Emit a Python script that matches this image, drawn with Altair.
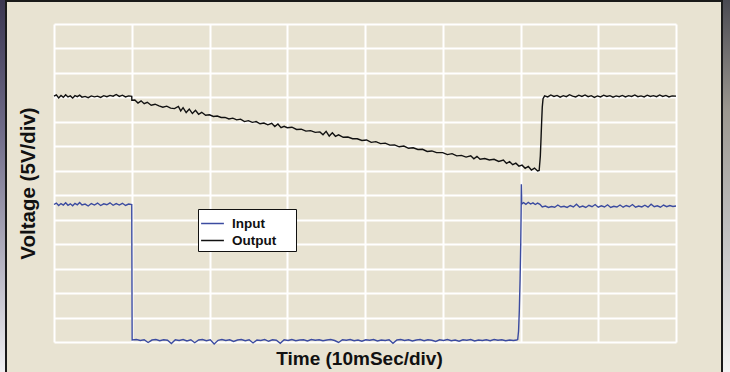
import altair as alt
import pandas as pd

# Output trace (black): time in divisions, voltage in divisions from bottom grid line
out_t = [0.00, 0.03, 0.06, 0.09, 0.12, 0.15, 0.18, 0.21, 0.24, 0.27, 0.30, 0.33, 0.36, 0.40, 0.44, 0.48,
         0.52, 0.56, 0.60, 0.64, 0.68, 0.72, 0.76, 0.80, 0.84, 0.88, 0.92, 0.96, 1.00, 1.001,
         1.04, 1.08, 1.12, 1.16, 1.20, 1.25, 1.30, 1.35, 1.40, 1.45, 1.50, 1.55, 1.60, 1.63, 1.66, 1.70,
         1.74, 1.78, 1.82, 1.86, 1.90, 1.95, 2.00, 2.05, 2.10, 2.15, 2.20, 2.25, 2.30, 2.35, 2.40, 2.45,
         2.50, 2.55, 2.60, 2.65, 2.70, 2.75, 2.80, 2.84, 2.88, 2.92, 2.96, 3.00, 3.06, 3.12, 3.18, 3.24,
         3.30, 3.36, 3.42, 3.46, 3.50, 3.54, 3.58, 3.62, 3.66, 3.72, 3.78, 3.84, 3.90, 3.96, 4.02, 4.08,
         4.14, 4.20, 4.26, 4.32, 4.38, 4.44, 4.50, 4.56, 4.62, 4.68, 4.74, 4.80, 4.86, 4.92, 5.00, 5.06,
         5.12, 5.18, 5.24, 5.30, 5.36, 5.40, 5.44, 5.48, 5.54, 5.60, 5.66, 5.72, 5.78, 5.82, 5.86, 5.90,
         5.94, 5.98, 6.02, 6.06, 6.10, 6.14, 6.18, 6.22, 6.24,
         6.255, 6.265, 6.272, 6.28, 6.29, 6.31,
         6.35, 6.39, 6.43, 6.47, 6.51, 6.55, 6.59, 6.63, 6.67, 6.71, 6.75, 6.79, 6.83, 6.87, 6.91, 6.95,
         6.99, 7.03, 7.07, 7.11, 7.15, 7.19, 7.23, 7.27, 7.31, 7.35, 7.39, 7.43, 7.47, 7.51, 7.55, 7.59,
         7.63, 7.67, 7.71, 7.75, 7.79, 7.83, 7.87, 7.91, 7.95, 8.00]
out_v = [10.05, 10.10, 9.98, 10.08, 10.00, 10.11, 10.02, 10.06, 9.97, 10.07, 10.03, 10.09, 10.01, 10.04, 9.99, 10.06,
         10.02, 10.05, 10.00, 10.07, 10.03, 10.08, 10.05, 10.12, 10.04, 10.09, 10.02, 10.06, 10.04, 9.88,
         9.89, 9.77, 9.86, 9.74, 9.80, 9.68, 9.72, 9.65, 9.60, 9.64, 9.56, 9.54, 9.63, 9.45, 9.58, 9.38,
         9.52, 9.34, 9.47, 9.31, 9.39, 9.27, 9.29, 9.22, 9.24, 9.18, 9.18, 9.12, 9.15, 9.08, 9.11, 9.01,
         9.05, 8.98, 9.01, 8.92, 8.95, 8.88, 8.94, 8.81, 8.91, 8.76, 8.82, 8.76, 8.78, 8.69, 8.70, 8.62,
         8.64, 8.57, 8.59, 8.47, 8.61, 8.42, 8.55, 8.41, 8.47, 8.37, 8.38, 8.31, 8.31, 8.24, 8.26, 8.16,
         8.19, 8.11, 8.13, 8.05, 8.06, 7.98, 8.01, 7.92, 7.94, 7.87, 7.88, 7.79, 7.81, 7.74, 7.74, 7.66,
         7.70, 7.61, 7.63, 7.56, 7.61, 7.49, 7.59, 7.47, 7.50, 7.44, 7.47, 7.38, 7.44, 7.30, 7.37, 7.25,
         7.31, 7.19, 7.23, 7.10, 7.18, 7.03, 7.11, 6.99, 7.01,
         7.60, 8.40, 9.00, 9.60, 9.95, 10.06,
         10.02, 10.10, 10.04, 10.08, 10.01, 10.07, 10.03, 10.11, 10.05, 10.02, 10.09, 10.04, 10.10, 10.03, 10.07, 10.00,
         10.06, 10.02, 10.09, 10.04, 10.07, 10.01, 10.06, 10.03, 10.08, 10.02, 10.07, 10.04, 10.10, 10.03, 10.06, 10.02,
         10.09, 10.04, 10.07, 10.03, 10.10, 10.04, 10.08, 10.02, 10.06, 10.05]

# Input trace (blue)
in_t = [0.00, 0.03, 0.06, 0.09, 0.12, 0.15, 0.18, 0.21, 0.24, 0.27, 0.30, 0.33, 0.36, 0.40, 0.44, 0.48,
        0.52, 0.56, 0.60, 0.64, 0.68, 0.72, 0.76, 0.80, 0.84, 0.88, 0.92, 0.96, 1.00, 1.005,
        1.06, 1.11, 1.16, 1.21, 1.26, 1.31, 1.36, 1.41, 1.46, 1.51, 1.56, 1.61, 1.66, 1.71, 1.76, 1.81,
        1.86, 1.91, 1.96, 2.01, 2.06, 2.11, 2.16, 2.21, 2.26, 2.31, 2.36, 2.41, 2.46, 2.51, 2.56, 2.61,
        2.66, 2.71, 2.76, 2.81, 2.86, 2.91, 2.96, 3.01, 3.06, 3.11, 3.16, 3.21, 3.26, 3.31, 3.36, 3.41,
        3.46, 3.51, 3.56, 3.61, 3.66, 3.71, 3.76, 3.81, 3.86, 3.91, 3.96, 4.01, 4.06, 4.11, 4.16, 4.21,
        4.26, 4.31, 4.36, 4.41, 4.46, 4.51, 4.56, 4.61, 4.66, 4.71, 4.76, 4.81, 4.86, 4.91, 4.96, 5.01,
        5.06, 5.11, 5.16, 5.21, 5.26, 5.31, 5.36, 5.41, 5.46, 5.51, 5.56, 5.61, 5.66, 5.71, 5.76, 5.81,
        5.86, 5.91, 5.95,
        5.964, 5.975, 5.985, 5.995, 6.003, 6.008, 6.011, 6.016,
        6.04, 6.07, 6.10, 6.13, 6.16, 6.19, 6.22, 6.25, 6.28, 6.32, 6.36, 6.40, 6.44, 6.48, 6.52, 6.56,
        6.60, 6.64, 6.68, 6.72, 6.76, 6.80, 6.84, 6.88, 6.92, 6.96, 7.00, 7.04, 7.08, 7.12, 7.16, 7.20,
        7.24, 7.28, 7.32, 7.36, 7.40, 7.44, 7.48, 7.52, 7.56, 7.60, 7.64, 7.68, 7.72, 7.76, 7.80, 7.84,
        7.88, 7.92, 7.96, 8.00]
in_v = [5.62, 5.68, 5.58, 5.66, 5.60, 5.69, 5.59, 5.65, 5.57, 5.67, 5.61, 5.70, 5.60, 5.64, 5.56, 5.66,
        5.60, 5.68, 5.58, 5.65, 5.61, 5.69, 5.59, 5.66, 5.60, 5.67, 5.58, 5.64, 5.62, 0.08,
        0.10, 0.06, 0.09, -0.02, 0.08, 0.10, 0.05, 0.09, 0.07, -0.06, 0.09, 0.06, 0.10, 0.04, 0.09, -0.03,
        0.08, 0.10, 0.05, 0.09, -0.08, 0.07, 0.10, 0.06, 0.09, 0.02, 0.08, 0.10, 0.05, 0.09, -0.04, 0.08,
        0.06, 0.10, 0.03, 0.09, 0.07, -0.05, 0.09, 0.06, 0.10, 0.05, 0.08, 0.09, 0.04, 0.10, 0.07, 0.09,
        0.05, 0.08, 0.10, 0.06, -0.02, 0.09, 0.07, 0.10, 0.05, 0.08, 0.03, 0.09, 0.07, 0.10, 0.04, 0.08,
        0.06, 0.09, -0.05, 0.08, 0.10, 0.06, 0.09, 0.04, 0.08, 0.10, 0.05, 0.09, 0.07, 0.02, 0.09, 0.06,
        0.10, 0.05, 0.08, 0.03, 0.09, 0.07, 0.10, 0.04, 0.08, 0.06, 0.09, 0.05, 0.10, 0.07, 0.09, 0.05,
        0.08, 0.06, 0.08,
        0.10, 0.45, 1.30, 2.60, 4.00, 5.30, 6.45, 5.64,
        5.70, 5.63, 5.71, 5.64, 5.69, 5.62, 5.68, 5.63, 5.52, 5.56, 5.50, 5.54, 5.51, 5.60, 5.52, 5.55,
        5.50, 5.58, 5.52, 5.63, 5.51, 5.56, 5.50, 5.59, 5.53, 5.62, 5.51, 5.57, 5.52, 5.61, 5.50, 5.55,
        5.52, 5.60, 5.51, 5.58, 5.53, 5.62, 5.51, 5.56, 5.52, 5.59, 5.51, 5.63, 5.53, 5.57, 5.51, 5.60,
        5.53, 5.58, 5.54, 5.56]

series_names = ["Input", "Output"]
series_colors = ["#3B4BA0", "#111111"]

df = pd.concat([
    pd.DataFrame({"t": in_t, "v": in_v, "series": "Input", "i": range(len(in_t))}),
    pd.DataFrame({"t": out_t, "v": out_v, "series": "Output", "i": range(len(out_t))}),
], ignore_index=True)

FONT = "Liberation Sans"

x_axis = alt.Axis(values=list(range(0, 9)), grid=True, gridColor="white", gridWidth=2, gridOpacity=1,
                  labels=False, ticks=False, domain=False, title="Time (10mSec/div)",
                  titleFont=FONT, titleFontSize=19, titleFontWeight="bold", titleColor="#111111",
                  titlePadding=7, titleX=305)
y_axis = alt.Axis(values=list(range(0, 14)), grid=True, gridColor="white", gridWidth=2, gridOpacity=1,
                  labels=False, ticks=False, domain=False, title="Voltage (5V/div)",
                  titleFont=FONT, titleFontSize=20.5, titleFontWeight="bold", titleColor="#111111",
                  titlePadding=16)

lines = alt.Chart(df).mark_line(strokeWidth=1.4, clip=False).encode(
    x=alt.X("t:Q", scale=alt.Scale(domain=[0, 8], nice=False, zero=False), axis=x_axis),
    y=alt.Y("v:Q", scale=alt.Scale(domain=[0, 13], nice=False, zero=False), axis=y_axis),
    color=alt.Color("series:N", scale=alt.Scale(domain=series_names, range=series_colors),
                    legend=alt.Legend(orient="none", legendX=144, legendY=185,
                                      title="iii", titleOrient="right", titleColor="white",
                                      titleFontSize=13, titlePadding=5,
                                      fillColor="white", strokeColor="#111111", padding=4,
                                      symbolType="M-1.2,0H1.2", symbolSize=361, symbolStrokeWidth=1.5,
                                      labelFont=FONT, labelFontSize=13.5, labelFontWeight="bold",
                                      labelColor="#111111", labelOffset=9, rowPadding=0)),
    order="i:Q",
)

left_grad = alt.LinearGradient(gradient="linear", x1=0, x2=0, y1=0, y2=1, stops=[
    alt.GradientStop(color="#3a3650", offset=0),
    alt.GradientStop(color="#6f6b88", offset=0.35),
    alt.GradientStop(color="#aaa8b8", offset=0.65),
    alt.GradientStop(color="#f0f0f2", offset=1)])
right_grad = alt.LinearGradient(gradient="linear", x1=0, x2=0, y1=0, y2=1, stops=[
    alt.GradientStop(color="#4a4a52", offset=0),
    alt.GradientStop(color="#9c9890", offset=0.3),
    alt.GradientStop(color="#bdbdbd", offset=0.6),
    alt.GradientStop(color="#f4f4f4", offset=1)])

base = alt.Chart(pd.DataFrame({"a": [0]}))
left_strip = base.mark_rect(color=left_grad).encode(
    x=alt.value(-54), x2=alt.value(-48), y=alt.value(-24), y2=alt.value(348))
right_strip = base.mark_rect(color=right_grad).encode(
    x=alt.value(668), x2=alt.value(676), y=alt.value(-24), y2=alt.value(348))
frame = base.mark_rect(fillOpacity=0, stroke="#1a1a1a", strokeWidth=2).encode(
    x=alt.value(-48), x2=alt.value(668), y=alt.value(-23), y2=alt.value(356))

chart = alt.layer(left_strip, right_strip, frame, lines).properties(
    width=622, height=318,
    background="#E8E3D2",
    padding={"left": 54, "top": 24, "right": 54, "bottom": 30},
    autosize=alt.AutoSizeParams(type="none"),
).configure_view(stroke=None, fill=None)

chart.save("out.html", embed_options={"renderer": "svg", "actions": False})
